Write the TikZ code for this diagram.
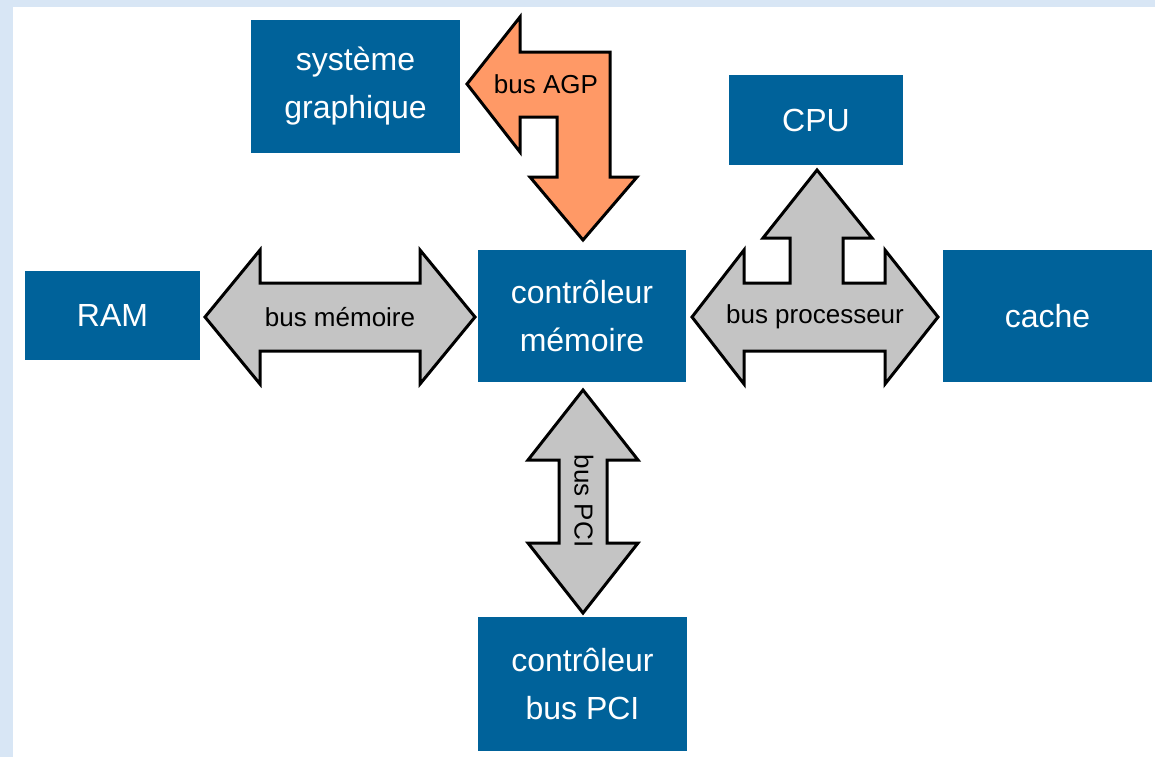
\documentclass[tikz,border=0pt]{standalone}
\usepackage{fontspec}
\setmainfont{Liberation Sans}
\definecolor{boxblue}{RGB}{0,98,154}
\definecolor{busgray}{RGB}{196,196,196}
\definecolor{agporange}{RGB}{255,153,102}
\definecolor{frameblue}{RGB}{216,230,245}
\tikzset{
  unit/.style={fill=boxblue, text=white, align=center, inner sep=0pt,
    font=\fontsize{16}{24}\selectfont},
  busarrow/.style={draw=black, line width=1.5pt, line join=miter},
  buslabel/.style={inner sep=0pt, font=\fontsize{13}{15}\selectfont, text=black}
}
\begin{document}
\begin{tikzpicture}[x=0.5pt, y=-0.5pt]
% page frame
\useasboundingbox (0,0) rectangle (1155,757);
\fill[frameblue] (0,0) rectangle (1155,757);
\fill[white] (13,7) rectangle (1155,757);

% units
\node[unit, minimum width=104.5pt, minimum height=66.5pt] (gfx) at (355.5,86.5) {système\\graphique};
\node[unit, minimum width=87pt, minimum height=45pt] (cpu) at (816,120) {CPU};
\node[unit, minimum width=87.5pt, minimum height=44.5pt] (ram) at (112.5,315.5) {RAM};
\node[unit, minimum width=104pt, minimum height=66pt] (mc) at (582,316) {contrôleur\\mémoire};
\node[unit, minimum width=104.5pt, minimum height=66pt] (cache) at (1047.5,316) {cache};
\node[unit, minimum width=104.5pt, minimum height=67pt] (pci) at (582.5,683.5) {contrôleur\\bus PCI};

% memory bus: RAM <-> memory controller
\draw[busarrow, fill=busgray]
  (205,317) -- (260,250) -- (260,283) -- (420,283) -- (420,250) -- (475,317)
  -- (420,384) -- (420,351) -- (260,351) -- (260,384) -- cycle;
\node[buslabel] (lmem) at (340,317) {bus mémoire};

% PCI bus: memory controller <-> PCI controller
\draw[busarrow, fill=busgray]
  (583,390) -- (638,460) -- (607,460) -- (607,543) -- (638,543) -- (583,613)
  -- (528,543) -- (559,543) -- (559,460) -- (528,460) -- cycle;
\node[buslabel, rotate=-90] (lpci) at (584,501) {bus PCI};

% processor bus: memory controller <-> cache, branch up to CPU
\draw[busarrow, fill=busgray]
  (692,317) -- (744,250) -- (744,283) -- (790,283) -- (790,238) -- (763,238)
  -- (817,170) -- (872,238) -- (843,238) -- (843,283) -- (885,283) -- (885,250)
  -- (938,317) -- (885,384) -- (885,351) -- (744,351) -- (744,384) -- cycle;
\node[buslabel] (lproc) at (815,317) {bus processeur};

% AGP bus: bent arrow from memory controller to graphics
\draw[busarrow, fill=agporange]
  (467,84) -- (520,17) -- (520,52) -- (610,52) -- (610,177) -- (637,177)
  -- (583,240) -- (530,177) -- (557,177) -- (557,117) -- (520,117) -- (520,152) -- cycle;
\node[buslabel] (lagp) at (546,84) {bus AGP};
\end{tikzpicture}
\end{document}
